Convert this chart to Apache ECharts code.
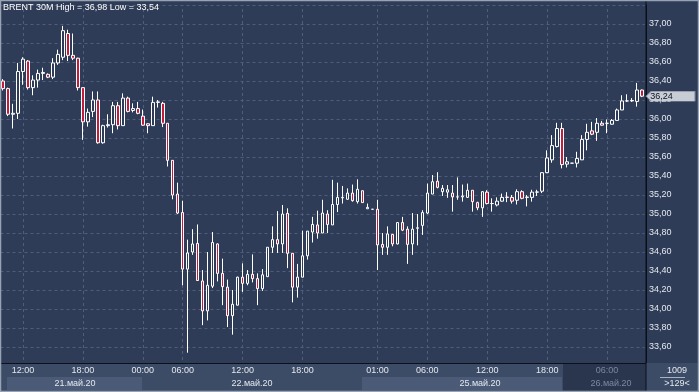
<!DOCTYPE html>
<html><head><meta charset="utf-8">
<script src="https://cdn.jsdelivr.net/npm/echarts@6/dist/echarts.min.js"></script>
<style>html,body{margin:0;padding:0;background:#2e3c57}#c{width:699px;height:392px}</style>
</head><body><div id="c"></div>
<script>
// ---- data (BRENT 30M candles) ----
const opens = [36.40,36.32,36.05,36.06,36.50,36.61,36.33,36.41,36.48,36.47,36.44,36.59,36.65,36.90,36.67,36.64,36.33,35.97,36.08,36.20,35.75,35.93,35.94,36.14,35.93,36.22,36.09,36.11,36.03,35.95,35.93,36.175,36.165,35.955,35.565,35.21,35.015,34.42,34.60,34.69,34.295,33.98,34.24,34.685,34.375,34.23,33.93,34.04,34.335,34.27,34.365,34.32,34.215,34.34,34.65,34.73,34.685,35.007,34.586,34.23,34.335,34.56,34.81,34.885,34.80,35.00,34.885,35.10,35.17,35.155,35.22,35.13,35.245,35.055,35.05,35.05,34.68,34.65,34.785,34.685,34.91,34.84,34.685,34.85,34.88,35.01,35.21,35.345,35.235,35.23,35.22,35.18,35.18,35.175,35.25,35.12,35.065,35.23,35.11,35.095,35.135,35.175,35.175,35.145,35.235,35.175,35.175,35.23,35.24,35.435,35.57,35.71,35.90,35.525,35.535,35.535,35.57,35.785,35.875,35.86,35.955,35.955,35.945,35.985,36.095,36.19,36.19,36.185,36.305];
const closes = [36.32,36.05,36.06,36.50,36.63,36.33,36.41,36.48,36.49,36.44,36.59,36.68,36.93,36.67,36.64,36.33,35.97,36.07,36.20,35.75,35.93,35.94,36.14,35.93,36.22,36.08,36.11,36.06,35.935,35.93,36.175,36.18,35.955,35.565,35.20,35.01,34.42,34.59,34.685,34.30,33.98,34.25,34.70,34.375,34.235,33.93,34.05,34.335,34.27,34.365,34.32,34.215,34.36,34.65,34.73,34.685,35.00,34.586,34.23,34.335,34.56,34.82,34.89,34.80,35.01,34.89,35.10,35.175,35.175,35.22,35.14,35.26,35.12,35.07,35.05,34.675,34.65,34.79,34.685,34.91,34.83,34.68,34.84,34.855,35.015,35.22,35.34,35.28,35.27,35.255,35.18,35.18,35.19,35.25,35.13,35.065,35.235,35.11,35.11,35.135,35.175,35.178,35.135,35.235,35.165,35.178,35.23,35.232,35.435,35.59,35.72,35.90,35.52,35.55,35.535,35.585,35.785,35.86,35.84,35.955,35.935,35.955,35.985,36.095,36.19,36.19,36.195,36.305,36.24];
const lows = [36.30,36.03,35.90,36.00,36.36,36.31,36.25,36.33,36.41,36.43,36.42,36.57,36.62,36.61,36.62,36.30,35.78,35.92,36.02,35.74,35.74,35.91,35.85,35.89,35.93,36.07,36.07,36.05,35.93,35.85,35.93,36.12,35.915,35.50,35.155,35.00,34.25,33.54,34.57,34.30,33.83,33.88,34.22,34.29,34.04,33.81,33.73,34.04,34.18,34.25,34.28,34.04,34.19,34.34,34.59,34.59,34.59,34.43,34.07,34.12,34.335,34.52,34.70,34.74,34.80,34.80,34.885,35.02,35.11,35.15,35.13,35.11,35.12,35.055,35.05,34.41,34.57,34.57,34.66,34.68,34.82,34.475,34.57,34.67,34.78,35.00,35.21,35.27,35.19,35.17,35.025,35.15,35.13,35.17,35.025,35.04,34.97,35.10,35.025,35.08,35.13,35.125,35.11,35.10,35.155,35.08,35.13,35.19,35.22,35.43,35.54,35.70,35.48,35.49,35.535,35.49,35.57,35.67,35.83,35.77,35.93,35.85,35.94,35.985,36.095,36.18,36.18,36.13,36.23];
const highs = [36.42,36.33,36.16,36.59,36.65,36.62,36.46,36.52,36.54,36.48,36.64,36.73,36.98,36.94,36.90,36.645,36.33,36.11,36.29,36.29,35.94,36.05,36.18,36.18,36.27,36.235,36.165,36.18,36.10,35.955,36.235,36.20,36.18,35.955,35.565,35.33,35.14,34.73,34.84,34.89,34.41,34.60,34.81,34.69,34.53,34.31,34.20,34.34,34.48,34.41,34.575,34.375,34.42,34.65,34.87,35.03,35.095,35.06,34.586,34.475,34.825,34.82,34.97,35.035,35.15,35.04,35.36,35.33,35.295,35.27,35.31,35.365,35.245,35.11,35.05,35.15,34.80,34.87,34.79,34.915,34.97,34.87,35.01,35.00,35.04,35.32,35.41,35.44,35.305,35.305,35.305,35.385,35.31,35.32,35.25,35.13,35.24,35.25,35.165,35.175,35.215,35.23,35.20,35.26,35.25,35.20,35.255,35.255,35.44,35.67,35.83,35.96,35.96,35.60,35.535,35.655,35.83,35.95,35.97,36.01,35.98,35.995,36.00,36.11,36.25,36.26,36.22,36.38,36.31];
const tickIndex = [4,16,28,36,48,60,75,85,97,109,121];
const tickLabels = ['12:00','18:00','00:00','06:00','12:00','18:00','01:00','06:00','12:00','18:00','06:00'];
const dateLabels = ['21.май.20','22.май.20','25.май.20','26.май.20'];
const yTickStep = 0.2;

// ---- build ----
const fmt = v => v.toFixed(2).replace('.', ',');
const candles = opens.map((o, i) => [o, closes[i], lows[i], highs[i]]);
const categories = opens.map((_, i) => String(i));
const labelAt = {}; tickIndex.forEach((k, j) => labelAt[k] = tickLabels[j]);
const hi = Math.max(...highs), lo = Math.min(...lows);
const last = closes[closes.length - 1];
const FONT = '"Liberation Sans", Arial, sans-serif';
const PLOT = '#2e3c57', BAND = '#3c4b66', STRIP = '#4a5a77', DARK = '#29364e', GRID = '#4f5e7b';

const txt = (text, x, y, fill) => ({type:'text', z:8, silent:true,
  style:{text, x, y, fill: fill || '#e4e8ee', font:'9px ' + FONT, textAlign:'center', textVerticalAlign:'middle', align:'center', verticalAlign:'middle'}});

const chart = echarts.init(document.getElementById('c'));
chart.setOption({
  animation: false,
  backgroundColor: PLOT,
  title: {text: 'BRENT 30M High = ' + fmt(hi) + ' Low = ' + fmt(lo), left: 3, top: 3, padding: 0,
    textStyle: {fontSize: 9, fontWeight: 'normal', color: '#ffffff', fontFamily: FONT}},
  grid: {left: 0.5, right: 54.5, top: 5, bottom: 26},
  xAxis: {type: 'category', data: categories, boundaryGap: true, offset: -3, z: 10,
    axisLine: {show: true, lineStyle: {color: '#0b101a', width: 1}},
    axisTick: {show: false}, splitLine: {show: false},
    axisLabel: {interval: 0, margin: 3, fontSize: 9, fontFamily: FONT,
      formatter: (v, i) => labelAt[i] || '',
      color: (v, i) => (i >= 118 ? '#7d889c' : '#e4e8ee')}},
  yAxis: {type: 'value', position: 'right', min: 33.4, max: 37.2, interval: yTickStep, offset: 1.5, scale: true,
    axisLine: {show: true, lineStyle: {color: '#0b101a', width: 1}},
    axisTick: {show: false},
    splitLine: {show: true, lineStyle: {color: GRID, type: [3, 3], width: 1}},
    axisLabel: {showMinLabel: false, showMaxLabel: false, margin: 3, fontSize: 9, fontFamily: FONT, color: '#e4e8ee',
      formatter: v => fmt(v)}},
  series: [{
    type: 'candlestick', data: candles, barWidth: 3, z: 2,
    itemStyle: {color: PLOT, color0: '#c21d3f', borderColor: '#ffffff', borderColor0: '#ffffff', borderWidth: 1},
    markLine: {silent: true, z: 1, symbol: ['none', 'none'], label: {show: false},
      lineStyle: {color: GRID, type: [3, 3], width: 1},
      data: tickIndex.map(k => ({xAxis: k}))},
    markPoint: {silent: true, z: 10,
      symbol: 'path://M0,5L5,0L48,0L48,10L5,10Z', symbolSize: [49, 10], symbolOffset: [28.5, 0],
      itemStyle: {color: '#c8cdd5', borderColor: '#7f8898', borderWidth: 0.5},
      label: {show: true, position: 'inside', offset: [-9, 0], color: '#0c1222', fontSize: 9, fontFamily: FONT,
        formatter: p => fmt(p.value)},
      data: [{coord: [candles.length - 1, last], value: last}]}
  }],
  graphic: {elements: [
    {type:'rect', z:5, silent:true, shape:{x:0, y:363, width:699, height:29}, style:{fill: BAND}},
    {type:'rect', z:6, silent:true, shape:{x:563, y:363.5, width:83, height:28}, style:{fill: DARK}},
    {type:'rect', z:6, silent:true, shape:{x:7, y:377, width:135, height:13}, style:{fill: STRIP}},
    {type:'rect', z:6, silent:true, shape:{x:362, y:377, width:200, height:13}, style:{fill: STRIP}},
    {type:'line', z:7, silent:true, shape:{x1:646, y1:0, x2:646, y2:392}, style:{stroke:'#0b101a', lineWidth:1}},
    {type:'line', z:7, silent:true, shape:{x1:0, y1:363.5, x2:646, y2:363.5}, style:{stroke:'#0b101a', lineWidth:1}},
    txt(dateLabels[0], 75, 383.5),
    txt(dateLabels[1], 252, 383.5),
    txt(dateLabels[2], 480, 383.5),
    txt(dateLabels[3], 611, 383.5, '#7d889c'),
    txt('1009', 677, 371),
    {type:'line', z:8, silent:true, shape:{x1:660, y1:377.5, x2:685, y2:377.5}, style:{stroke:'#aab2c0', lineWidth:1}},
    txt('>' + candles.length + '<', 677, 384),
    {type:'rect', z:20, silent:true, shape:{x:0.5, y:0.5, width:698, height:391}, style:{fill:'none', stroke:'#98a2b3', lineWidth:1.5}}
  ]}
});
</script></body></html>
